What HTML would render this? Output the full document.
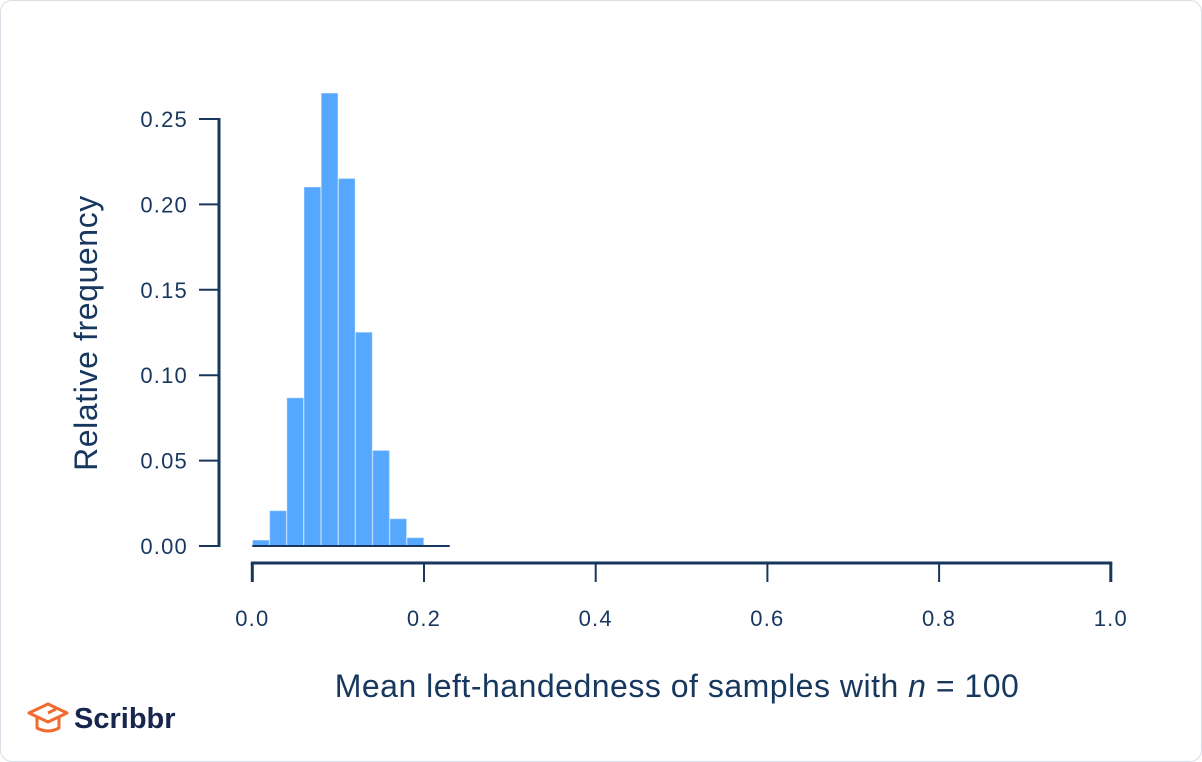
<!DOCTYPE html>
<html><head><meta charset="utf-8"><style>
body{margin:0;background:#fff;font-family:"Liberation Sans",sans-serif}
#card{position:absolute;left:0;top:0;width:1200px;height:760px;border:1px solid #d9dde6;border-radius:12px;background:#fff}
</style></head><body>
<div id="card"></div>
<svg id="chart" width="1202" height="762" style="position:absolute;left:0;top:0"></svg>
<script>
const binStarts=[0,0.02,0.04,0.06,0.08,0.10,0.12,0.14,0.16,0.18];
const freqs=[0.0033,0.0205,0.0866,0.210,0.265,0.215,0.125,0.0558,0.0158,0.0047];
const yTicks=[0,0.05,0.10,0.15,0.20,0.25];
const yTickLabels=["0.00","0.05","0.10","0.15","0.20","0.25"];
const xTicks=[0,0.2,0.4,0.6,0.8,1.0];
const xTickLabels=["0.0","0.2","0.4","0.6","0.8","1.0"];
const binWidth=0.02;
const baselineEnd=0.23;

const ns="http://www.w3.org/2000/svg";
const svg=document.getElementById('chart');
const C="#17375e";
const x=v=>252.3+v*858.5;
const y=v=>546-v*1708;
function el(t,a,p){const e=document.createElementNS(ns,t);for(const k in a)e.setAttribute(k,a[k]);(p||svg).appendChild(e);return e;}

freqs.forEach((f,i)=>{
  const b=el('rect',{x:x(binStarts[i])+0.5,y:y(f),width:x(binStarts[i]+binWidth)-x(binStarts[i])-1,height:y(0)-y(f),fill:"#55a8fd",stroke:"#8cc4ff","stroke-width":0.6});
  
  
});
const bl=el('line',{x1:x(0),x2:x(baselineEnd),y1:y(0),y2:y(0),stroke:C,"stroke-width":2});



const ya=el('line',{x1:219,x2:219,y1:y(0.25)-1,y2:y(0)+1,stroke:C,"stroke-width":3});


yTicks.forEach((v,i)=>{
  el('line',{x1:199,x2:219,y1:y(v),y2:y(v),stroke:C,"stroke-width":2});
  const t=el('text',{x:188,y:y(v)+8,"text-anchor":"end","font-size":22,"letter-spacing":1.2,fill:C});
  t.textContent=yTickLabels[i];
  
  
});
const xa=el('line',{x1:x(0)-1.5,x2:x(1)+1.5,y1:563,y2:563,stroke:C,"stroke-width":3});


xTicks.forEach((v,i)=>{
  el('line',{x1:x(v),x2:x(v),y1:563,y2:582,stroke:C,"stroke-width":(i==0||i==5)?3:2});
  const t=el('text',{x:x(v),y:626,"text-anchor":"middle","font-size":22,"letter-spacing":1.2,fill:C});
  t.textContent=xTickLabels[i];
  
  
});
const yt=el('text',{x:0,y:0,transform:"translate(97,333) rotate(-90)","text-anchor":"middle","font-size":32,"letter-spacing":0.6,fill:C});
yt.textContent="Relative frequency";


const xt=el('text',{x:677,y:697,"text-anchor":"middle","font-size":32,"letter-spacing":0.5,fill:C});
xt.innerHTML='Mean left-handedness of samples with <tspan font-style="italic">n</tspan> = 100';


</script>
<svg width="170" height="40" style="position:absolute;top:697px;left:26px">
<g fill="none" stroke="#f26a2e" stroke-width="3" stroke-linejoin="round">
<path d="M3 16 L22 7 L41 16 L22 25 Z"/><path d="M11 20 V31 Q22 37 33 31 V20"/><path d="M22 16 L30 12"/>
</g>
<text x="48" y="31" font-family="Liberation Sans, sans-serif" font-weight="bold" font-size="29" fill="#17264d">Scribbr</text>
</svg>
</body></html>
